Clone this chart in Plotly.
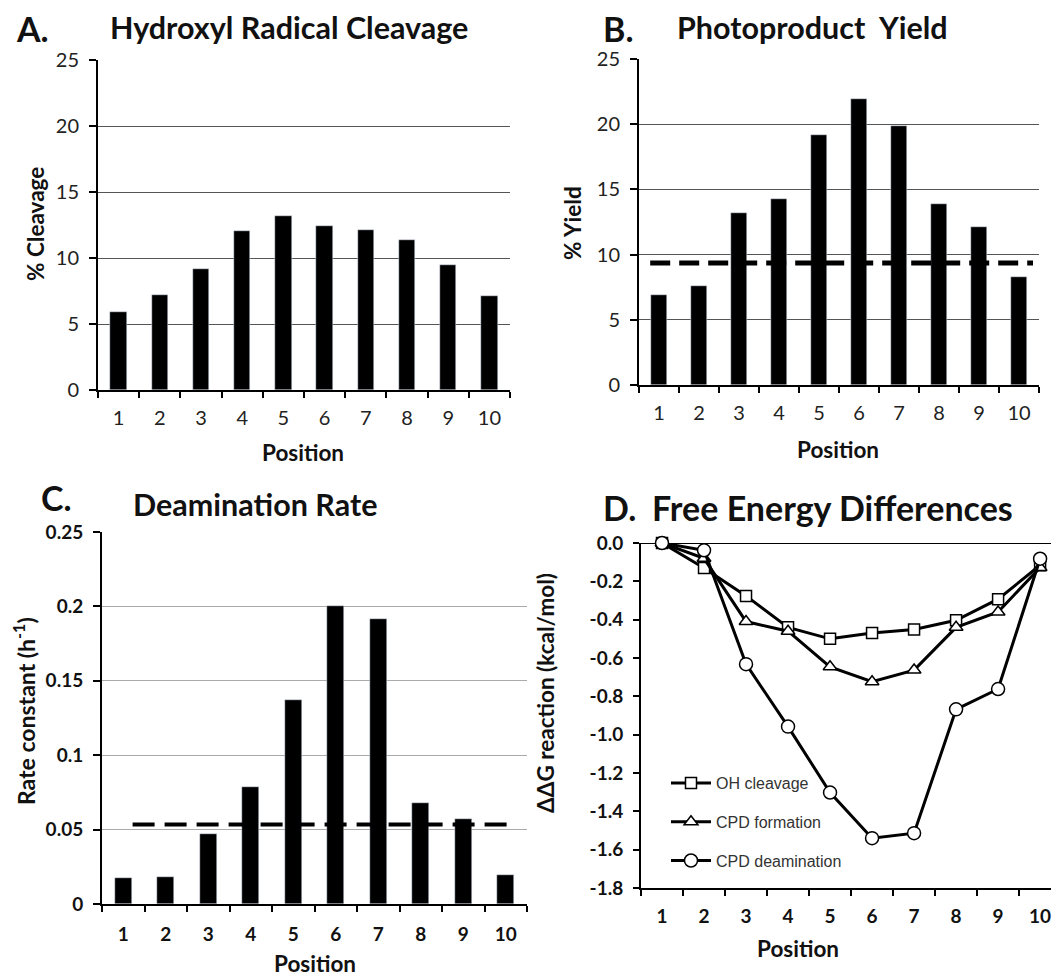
import plotly.graph_objects as go

# The page body has an 8px default margin, so the figure starts at (8, 8).
OFF = 8
W, H = 1059 - OFF, 978 - OFF

positions = [1, 2, 3, 4, 5, 6, 7, 8, 9, 10]
cleavage_pct = [5.9, 7.2, 9.2, 12.05, 13.2, 12.45, 12.15, 11.35, 9.5, 7.1]
yield_pct = [6.9, 7.6, 13.2, 14.3, 19.2, 21.95, 19.9, 13.85, 12.1, 8.3]
yield_mean = 9.35
deam_rate = [0.0172, 0.0181, 0.0468, 0.0788, 0.1372, 0.2001, 0.1916, 0.0680, 0.0571, 0.0192]
deam_mean = 0.0535
dg_oh = [0.0, -0.13, -0.276, -0.44, -0.50, -0.469, -0.451, -0.403, -0.293, -0.116]
dg_cpd_form = [0.0, -0.08, -0.41, -0.46, -0.646, -0.724, -0.663, -0.44, -0.36, -0.128]
dg_cpd_deam = [0.0, -0.038, -0.632, -0.958, -1.302, -1.54, -1.514, -0.868, -0.762, -0.082]

ab_ticks = [0, 5, 10, 15, 20, 25]
c_ticks = [0, 0.05, 0.1, 0.15, 0.2, 0.25]
c_ticktext = ["0", "0.05", "0.1", "0.15", "0.2", "0.25"]
d_ticks = [0.0, -0.2, -0.4, -0.6, -0.8, -1.0, -1.2, -1.4, -1.6, -1.8]
d_ticktext = ["0.0", "-0.2", "-0.4", "-0.6", "-0.8", "-1.0", "-1.2", "-1.4", "-1.6", "-1.8"]

FONT = "Lato"
ARIAL = "Liberation Sans"


def px_x(a, b):
    return [max((a - OFF) / W, 0.0), min((b - OFF) / W, 1.0)]


def px_y(top, bottom):
    return [1 - (bottom - OFF) / H, 1 - (top - OFF) / H]


fig = go.Figure()

fig.add_trace(go.Bar(x=positions, y=cleavage_pct, marker_color="black", width=0.4,
                     xaxis="x", yaxis="y", showlegend=False))
fig.add_trace(go.Bar(x=positions, y=yield_pct, marker_color="black", width=0.4,
                     xaxis="x2", yaxis="y2", showlegend=False))
fig.add_trace(go.Bar(x=positions, y=deam_rate, marker_color="black", width=0.4,
                     xaxis="x3", yaxis="y3", showlegend=False))

series_d = [
    ("OH cleavage", dg_oh, "square", 11),
    ("CPD formation", dg_cpd_form, "triangle-up", 12),
    ("CPD deamination", dg_cpd_deam, "circle", 13),
]
for i, (name, vals, sym, sz) in enumerate(series_d):
    fig.add_trace(go.Scatter(
        x=positions, y=vals, mode="lines+markers", name=name,
        line=dict(color="black", width=3),
        marker=dict(symbol=sym, size=sz, color="white", line=dict(color="black", width=1.5)),
        xaxis="x4", yaxis="y4", cliponaxis=False, legendgroup=f"g{i}",
    ))

tickfont_reg = dict(family=FONT, size=20, color="#222")
tickfont_bold = dict(family=FONT, size=19, color="#111", weight="bold")


def xaxis_common(domain, anchor, tf, rng=(0.5, 10.5), labelpad=12):
    return dict(
        domain=domain, anchor=anchor, range=list(rng), tickmode="array",
        tickvals=positions, ticktext=[str(p) for p in positions], ticks="", showgrid=False,
        showline=True, linecolor="black", linewidth=2, tickfont=tf, zeroline=False,
        ticklabelstandoff=labelpad,
        minor=dict(tickmode="array", tickvals=[p - 0.5 for p in positions] + [positions[-1] + 0.5],
                   ticks="outside", ticklen=6, tickwidth=2, tickcolor="black", showgrid=False),
        fixedrange=True,
    )


def yaxis_common(domain, anchor, rng, tickvals, ticktext, tf, grid, gridcolor="#555"):
    return dict(domain=domain, anchor=anchor, range=rng, tickmode="array",
                tickvals=tickvals, ticktext=ticktext, ticks="outside", ticklen=7, tickwidth=2,
                tickcolor="black", showline=True, linecolor="black", linewidth=2, showgrid=grid,
                gridcolor=gridcolor, gridwidth=1.3, tickfont=tf, zeroline=False,
                ticklabelstandoff=6, fixedrange=True)


layout = dict(
    width=W, height=H, margin=dict(l=0, r=0, t=0, b=0, autoexpand=False),
    paper_bgcolor="white", plot_bgcolor="white", bargap=0,
    showlegend=True,
    legend=dict(x=(666 - OFF) / W, y=1 - (766 - OFF) / H, xanchor="left", yanchor="top",
                font=dict(family=ARIAL, size=16, color="#333"), bgcolor="rgba(0,0,0,0)",
                tracegroupgap=15, itemwidth=40),
)

layout["xaxis"] = xaxis_common(px_x(98, 510), "y", tickfont_reg, labelpad=9)
layout["yaxis"] = yaxis_common(px_y(60, 390), "x", [0, 25], ab_ticks, [str(t) for t in ab_ticks],
                               tickfont_reg, True)
layout["xaxis2"] = xaxis_common(px_x(639, 1039), "y2", tickfont_reg, labelpad=9)
layout["yaxis2"] = yaxis_common(px_y(59, 385), "x2", [0, 25], ab_ticks, [str(t) for t in ab_ticks],
                                tickfont_reg, True)
layout["xaxis3"] = xaxis_common(px_x(102, 527), "y3", tickfont_bold, labelpad=12)
layout["yaxis3"] = yaxis_common(px_y(532, 904), "x3", [0, 0.25], c_ticks, c_ticktext,
                                tickfont_bold, True, gridcolor="#aaa")
layout["xaxis4"] = xaxis_common(px_x(641, 1059), "y4", tickfont_bold, rng=(0.5, 10.45), labelpad=10)
layout["yaxis4"] = yaxis_common(px_y(543, 888), "x4", [-1.8, 0], d_ticks, d_ticktext,
                                tickfont_bold, False)
layout["yaxis4"]["ticklen"] = 6

fig.update_layout(**layout)

fig.add_shape(type="line", xref="x4 domain", yref="y4", x0=0, x1=1, y0=d_ticks[0], y1=d_ticks[0],
              line=dict(color="black", width=2), layer="below")

fig.add_shape(type="line", xref="x2", yref="y2", x0=positions[0] - 0.22, x1=positions[-1] + 0.35,
              y0=yield_mean, y1=yield_mean, line=dict(color="black", width=5, dash="20px,9px"))
fig.add_shape(type="line", xref="x3", yref="y3", x0=positions[0] + 0.22, x1=positions[-1] + 0.25,
              y0=deam_mean, y1=deam_mean, line=dict(color="black", width=4, dash="22px,10px"))

annots = []


def txt(text, x, y, size, bold=True, xanchor="center", angle=0, family=FONT, color="#111"):
    annots.append(dict(text=text, x=(x - OFF) / W, y=1 - (y - OFF) / H, xref="paper", yref="paper",
                       xanchor=xanchor, yanchor="middle", showarrow=False, textangle=angle,
                       borderpad=0,
                       font=dict(family=family, size=size, color=color,
                                 weight="bold" if bold else "normal")))


txt("A.", 15, 28, 34, xanchor="left")
txt("Hydroxyl Radical Cleavage", 109, 27, 30.5, xanchor="left")
txt("B.", 602, 28, 34, xanchor="left")
txt("Photoproduct  Yield", 676, 27, 30.5, xanchor="left")
txt("C.", 40, 497, 34, xanchor="left")
txt("Deamination Rate", 132, 504, 30.5, xanchor="left")
txt("D.", 602, 508, 34, xanchor="left")
txt("Free Energy Differences", 651, 508, 34, xanchor="left")

txt("% Cleavage", 35, 224, 22.5, angle=-90)
txt("% Yield", 572, 223, 22.5, angle=-90)
txt("Rate constant (h<sup>-1</sup>)", 24, 711, 23, bold=True, angle=-90)
txt("ΔΔG reaction (kcal/mol)", 545, 693, 22.5, angle=-90)
txt("Position", 303, 453, 22.5)
txt("Position", 838, 450, 22.5)
txt("Position", 315, 963, 22.5)
txt("Position", 798, 948, 22.5)

fig.update_layout(annotations=annots)

fig.write_html("out.html")
